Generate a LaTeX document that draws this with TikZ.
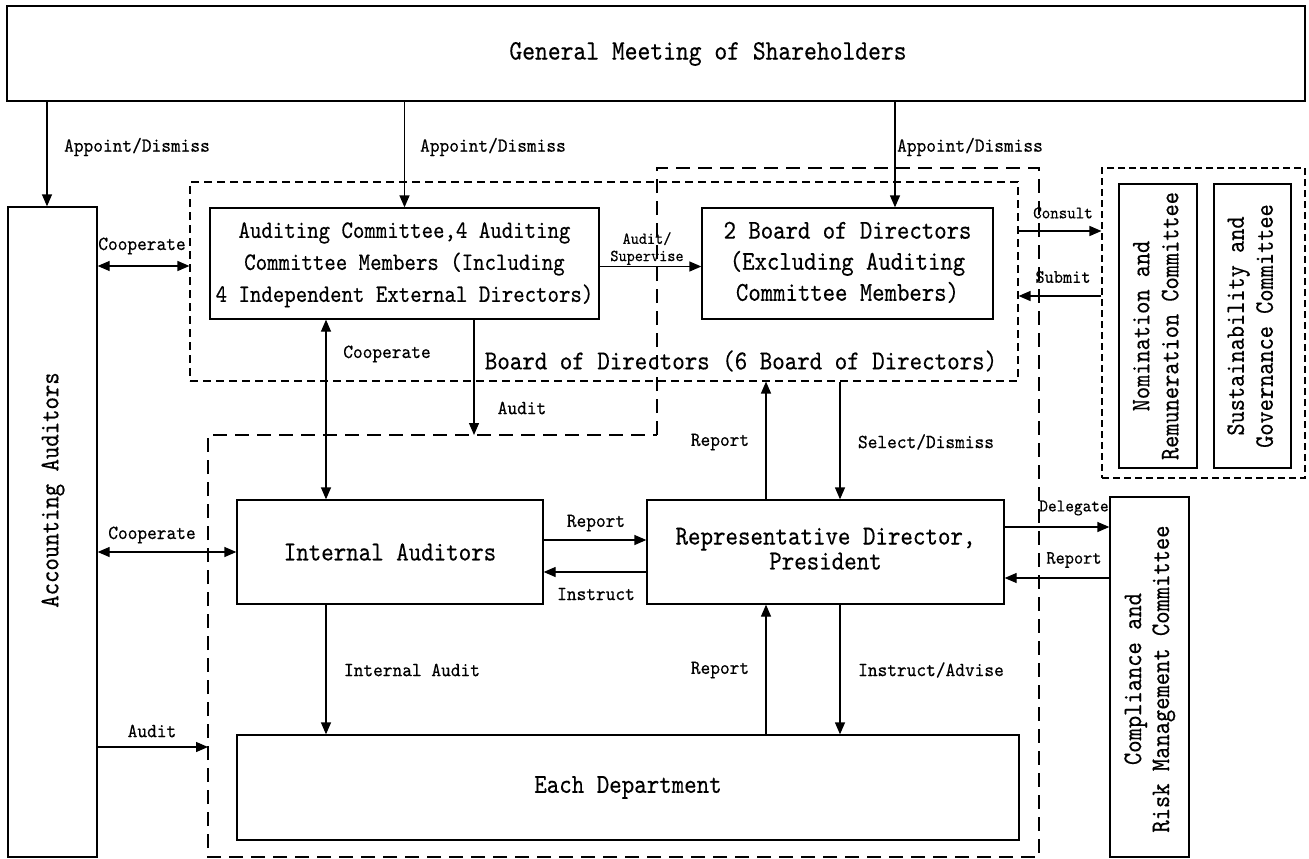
\documentclass[tikz,border=0pt]{standalone}
\usepackage{graphicx}
\usepackage{fontspec}
\setmonofont[FakeBold=0.4]{lmmono10-regular.otf}
\usetikzlibrary{arrows.meta}
\newcommand\vs[1]{\scalebox{1}[1.15]{#1}}
\newcommand\vl[1]{\scalebox{1}[1.08]{#1}}
\newcommand\stk[1]{\begin{tabular}{@{}c@{}}#1\end{tabular}}
\tikzset{
  box/.style={draw, line width=1.3pt, inner sep=0pt, align=center, font=\fontsize{23.8}{27}\selectfont\ttfamily},
  txt/.style={inner sep=0pt, align=center, font=\fontsize{23.8}{27}\selectfont\ttfamily},
  rtxt/.style={inner sep=0pt, rotate=90, font=\fontsize{23.2}{25.2}\selectfont\ttfamily},
  dbox/.style={draw, line width=1.1pt, dash pattern=on 8pt off 5pt, inner sep=0pt},
  cbox/.style={draw, line width=1.1pt, dash pattern=on 7pt off 4pt, inner sep=0pt},
  lbl/.style={inner sep=0pt, font=\fontsize{18.5}{21}\selectfont\ttfamily},
  arr/.style={line width=1.3pt, -{Triangle[length=12pt,width=10pt]}},
  darr/.style={line width=1.3pt, {Triangle[length=12pt,width=10pt]}-{Triangle[length=12pt,width=10pt]}},
}
\begin{document}
\begin{tikzpicture}[x=1pt,y=-1pt]
\useasboundingbox (0,0) rectangle (1309,859);
% dashed regions
\draw[line width=1.2pt, dash pattern=on 14pt off 8pt] (657,435) -- (657,168) -- (1039,168) -- (1039,857) -- (208,857) -- (208,435) -- cycle;
\coordinate (ex1) at (474,435);
\coordinate (ex2) at (208,747);
\node[dbox, minimum width=828, minimum height=199] (bodb) at (604,281.5) {};
\node[cbox, minimum width=203, minimum height=310] (comm) at (1203.5,323) {};
% boxes
\node[box, minimum width=1298, minimum height=95] (gm) at (656,53.5) {};
\node[txt, font=\fontsize{24.4}{27}\selectfont\ttfamily] (gmt) at (708,54) {\vs{General Meeting of Shareholders}};
\node[box, minimum width=89, minimum height=650] (acc) at (52.5,532) {};
\node[rtxt, font=\fontsize{23.6}{27}\selectfont\ttfamily] (acct) at (53,490) {\vs{Accounting Auditors}};
\node[box, minimum width=389, minimum height=111, font=\fontsize{21.8}{27.8}\selectfont\ttfamily] (audcom) at (404.5,263.5) {\vs{\stk{Auditing Committee,4 Auditing\\Committee Members (Including\\4 Independent External Directors)}}};
\node[box, minimum width=291, minimum height=111, font=\fontsize{23.6}{27}\selectfont\ttfamily] (bod2) at (847.5,263.5) {\vs{\stk{2 Board of Directors\\(Excluding Auditing\\Committee Members)}}};
\node[txt] (bodl) at (741,361) {\vs{Board of Directors (6 Board of Directors)}};
\node[box, minimum width=78, minimum height=284] (nom) at (1158,326) {};
\node[rtxt] (nomt) at (nom) {\vs{\stk{Nomination and\\Remuneration Committee}}};
\node[box, minimum width=77, minimum height=284] (sus) at (1252.5,326) {};
\node[rtxt] (sust) at (sus) {\vs{\stk{Sustainability and\\Governance Committee}}};
\node[box, minimum width=306, minimum height=104] (ia) at (390,552) {\vs{Internal Auditors}};
\node[box, minimum width=357, minimum height=104, font=\fontsize{23.8}{21.7}\selectfont\ttfamily] (rd) at (825.5,552) {\vs{\stk{Representative Director,\\President}}};
\node[box, minimum width=782, minimum height=105] (dept) at (628,787.5) {\vs{Each Department}};
\node[box, minimum width=79, minimum height=360] (comp) at (1149.5,677) {};
\node[rtxt, font=\fontsize{23.4}{24.3}\selectfont\ttfamily] (compt) at (1149.5,679) {\vs{\stk{Compliance and\\Risk Management Committee}}};
% connectors
\draw[arr] ([xshift=-5.5pt]acc.north |- gm.south) -- ([xshift=-5.5pt]acc.north);
\draw[arr] (audcom.north |- gm.south) -- (audcom.north);
\draw[arr] ([xshift=47.5pt]bod2.north |- gm.south) -- ([xshift=47.5pt]bod2.north);
\draw[darr] ([yshift=-2.5pt]acc.east |- audcom.east) -- ([yshift=-2.5pt]bodb.west |- audcom.east);
\draw[arr] ([yshift=-3pt]audcom.east) -- ([yshift=-3pt]bod2.west);
\draw[darr] ([xshift=-78.5pt]audcom.south) -- ([xshift=-78.5pt]audcom.south |- ia.north);
\draw[arr] ([xshift=69.5pt]audcom.south) -- (ex1);
\draw[arr] ([xshift=-59.5pt]rd.north) -- ([xshift=-59.5pt]rd.north |- bodb.south);
\draw[arr] ([xshift=14.5pt]rd.north |- bodb.south) -- ([xshift=14.5pt]rd.north);
\draw[arr] ([yshift=50.5pt]bodb.east) -- ([yshift=50.5pt]bodb.east -| comm.west);
\draw[arr] ([yshift=-14.5pt]bodb.east -| comm.west) -- ([yshift=-14.5pt]bodb.east);
\draw[darr] (acc.east |- ia.west) -- (ia.west);
\draw[arr] ([yshift=12pt]ia.east) -- ([yshift=12pt]ia.east -| rd.west);
\draw[arr] ([yshift=-20pt]rd.west) -- ([yshift=-20pt]rd.west -| ia.east);
\draw[arr] ([yshift=25pt]rd.east) -- ([yshift=25pt]rd.east -| comp.west);
\draw[arr] ([yshift=-26pt]rd.east -| comp.west) -- ([yshift=-26pt]rd.east);
\draw[arr] ([xshift=-64pt]ia.south) -- ([xshift=-64pt]ia.south |- dept.north);
\draw[arr] ([xshift=-59.5pt]rd.south |- dept.north) -- ([xshift=-59.5pt]rd.south);
\draw[arr] ([xshift=14.5pt]rd.south) -- ([xshift=14.5pt]rd.south |- dept.north);
\draw[arr] (acc.east |- ex2) -- (ex2);
% labels
\node[lbl] (l1) at (137,147) {\vl{Appoint/Dismiss}};
\node[lbl] (l2) at (493,147) {\vl{Appoint/Dismiss}};
\node[lbl] (l3) at (970,147) {\vl{Appoint/Dismiss}};
\node[lbl] (l4) at (142,246) {\vl{Cooperate}};
\node[lbl, font=\fontsize{15.5}{16}\selectfont\ttfamily] (l5) at (647,249) {\vl{\stk{Audit/\\Supervise}}};
\node[lbl] (l6) at (387,354) {\vl{Cooperate}};
\node[lbl] (l7) at (522,408) {\vl{Audit}};
\node[lbl] (l8) at (720,442) {\vl{Report}};
\node[lbl] (l9) at (926,442) {\vl{Select/Dismiss}};
\node[lbl, font=\fontsize{16.2}{18}\selectfont\ttfamily] (l10) at (1063,213) {\vl{Consult}};
\node[lbl, font=\fontsize{17.5}{18}\selectfont\ttfamily] (l11) at (1063,277) {\vl{Submit}};
\node[lbl] (l12) at (152,535) {\vl{Cooperate}};
\node[lbl] (l13) at (596,523) {\vl{Report}};
\node[lbl] (l14) at (596,594) {\vl{Instruct}};
\node[lbl, font=\fontsize{16.5}{18}\selectfont\ttfamily] (l15) at (1074,508) {\vl{Delegate}};
\node[lbl, font=\fontsize{17.5}{18}\selectfont\ttfamily] (l16) at (1074,560) {\vl{Report}};
\node[lbl] (l17) at (412,670) {\vl{Internal Audit}};
\node[lbl] (l18) at (720,670) {\vl{Report}};
\node[lbl] (l19) at (931,670) {\vl{Instruct/Advise}};
\node[lbl] (l20) at (152,731) {\vl{Audit}};
\end{tikzpicture}
\end{document}
